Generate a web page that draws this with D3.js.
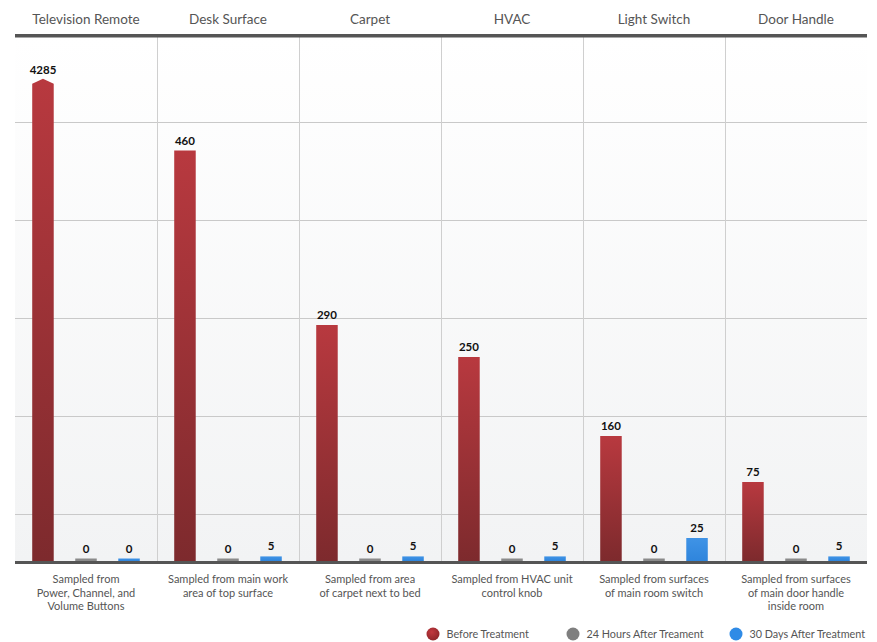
<!DOCTYPE html>
<html>
<head>
<meta charset="utf-8">
<script src="https://cdn.jsdelivr.net/npm/d3@7"></script>
<style>
  html, body { margin: 0; padding: 0; background: #fff; }
  svg { display: block; font-family: Lato, "Open Sans", sans-serif; }
</style>
</head>
<body>
<svg id="chart" width="877" height="642"></svg>
<script>
// ---------------- DATA ----------------
const categories = ["Television Remote", "Desk Surface", "Carpet", "HVAC", "Light Switch", "Door Handle"];
const descriptions = [
  ["Sampled from", "Power, Channel, and", "Volume Buttons"],
  ["Sampled from main work", "area of top surface"],
  ["Sampled from area", "of carpet next to bed"],
  ["Sampled from HVAC unit", "control knob"],
  ["Sampled from surfaces", "of main room switch"],
  ["Sampled from surfaces", "of main door handle", "inside room"]
];
const seriesNames = ["Before Treatment", "24 Hours After Treament", "30 Days After Treatment"];
const beforeTreatment = [4285, 460, 290, 250, 160, 75];
const after24Hours = [0, 0, 0, 0, 0, 0];
const after30Days = [0, 5, 5, 5, 25, 5];

// ---------------- LAYOUT ----------------
const svg = d3.select("#chart");
const left = 15, right = 867, plotTop = 37, baseline = 561;
const seriesValues = [beforeTreatment, after24Hours, after30Days];
const rows = categories.map((c, i) => ({
  cat: c, desc: descriptions[i],
  vals: seriesNames.map((s, k) => ({ series: s, k, value: seriesValues[k][i] }))
}));

const x = d3.scaleBand().domain(categories).range([left, right]).padding(0);
const xInner = d3.scaleBand().domain(seriesNames).range([0, x.bandwidth()])
  .paddingInner(0.5).paddingOuter(0.4);

// broken / compressed value axis (polylinear); values above 500 are off-scale
const yCap = 500;
const y = d3.scaleLinear()
  .domain([0, 25, 75, 160, 250, 300, 500, 5000])
  .range([0, 23, 79, 125, 204, 244, 452, 482].map(h => baseline - h));

const defs = svg.append("defs");
const bgGrad = defs.append("linearGradient").attr("id", "bg").attr("x1", 0).attr("x2", 0).attr("y1", 0).attr("y2", 1);
bgGrad.append("stop").attr("offset", "0%").attr("stop-color", "#ffffff");
bgGrad.append("stop").attr("offset", "100%").attr("stop-color", "#f2f3f4");

const redGrad = defs.append("linearGradient").attr("id", "red").attr("x1", 0).attr("x2", 0).attr("y1", 0).attr("y2", 1);
redGrad.append("stop").attr("offset", "0%").attr("stop-color", "#b8393f");
redGrad.append("stop").attr("offset", "100%").attr("stop-color", "#7d2a2d");

const redDot = defs.append("radialGradient").attr("id", "reddot").attr("cx", "40%").attr("cy", "35%").attr("r", "70%");
redDot.append("stop").attr("offset", "0%").attr("stop-color", "#c2383e");
redDot.append("stop").attr("offset", "100%").attr("stop-color", "#8c2528");

const blueGrad = defs.append("linearGradient").attr("id", "blue").attr("x1", 0).attr("x2", 0).attr("y1", 0).attr("y2", 1);
blueGrad.append("stop").attr("offset", "0%").attr("stop-color", "#3f93e6");
blueGrad.append("stop").attr("offset", "100%").attr("stop-color", "#2f85dc");

const fills = ["url(#red)", "#8a8a8a", "url(#blue)"];
const dotFills = ["url(#reddot)", "#7f7f7f", "#2f8be6"];

// plot background
svg.append("rect").attr("x", left).attr("y", plotTop).attr("width", right - left)
  .attr("height", baseline - plotTop).attr("fill", "url(#bg)");

// horizontal gridlines (unlabelled, evenly spaced)
const gridStep = 98;
const gridYs = d3.range(5).map(i => baseline - 47 - i * gridStep);
svg.append("g").selectAll("line").data(gridYs).join("line")
  .attr("x1", left).attr("x2", right).attr("y1", d => d + 0.5).attr("y2", d => d + 0.5)
  .attr("stroke", "#c9c9c9").attr("stroke-width", 1);

// vertical panel separators
svg.append("g").selectAll("line").data(categories.slice(1)).join("line")
  .attr("x1", d => Math.round(x(d)) + 0.5).attr("x2", d => Math.round(x(d)) + 0.5)
  .attr("y1", plotTop).attr("y2", baseline)
  .attr("stroke", "#cfcfcf").attr("stroke-width", 1);

// top rule
svg.append("rect").attr("x", left).attr("y", 34).attr("width", right - left).attr("height", 3.5).attr("fill", "#555");

// headers
svg.append("g").selectAll("text").data(categories).join("text")
  .attr("x", d => x(d) + x.bandwidth() / 2).attr("y", 24)
  .attr("text-anchor", "middle").attr("font-size", 13.5).attr("fill", "#555")
  .text(d => d);

// bars
const minH = 2.5;
const g = svg.append("g").selectAll("g").data(rows).join("g")
  .attr("transform", d => `translate(${x(d.cat)},0)`);

g.selectAll("path.bar").data(d => d.vals).join("path").attr("class", "bar")
  .attr("fill", d => fills[d.k])
  .attr("d", d => {
    const x0 = xInner(d.series), w = xInner.bandwidth();
    const top = Math.min(y(d.value), baseline - minH);
    if (d.value > yCap) {
      const tip = 5;
      return `M${x0},${baseline}V${top}L${x0 + w / 2},${top - tip}L${x0 + w},${top}V${baseline}Z`;
    }
    return `M${x0},${baseline}V${top}H${x0 + w}V${baseline}Z`;
  });

g.selectAll("text.val").data(d => d.vals).join("text").attr("class", "val")
  .attr("x", d => xInner(d.series) + xInner.bandwidth() / 2)
  .attr("y", d => Math.min(y(d.value), baseline - minH) - (d.value > yCap ? 10 : 6))
  .attr("text-anchor", "middle").attr("font-size", 11.5).attr("font-weight", 700).attr("fill", "#111")
  .text(d => d.value);

// baseline
svg.append("rect").attr("x", left).attr("y", baseline).attr("width", right - left).attr("height", 3).attr("fill", "#555");

// descriptions below
g.each(function (d) {
  const t = d3.select(this).append("text").attr("text-anchor", "middle")
    .attr("font-size", 11).attr("fill", "#555");
  d.desc.forEach((line, i) => {
    t.append("tspan").attr("x", x.bandwidth() / 2).attr("y", 583 + i * 13.5).text(line);
  });
});

// legend
const legendX = [433, 573, 736];
const lg = svg.append("g").selectAll("g").data(seriesNames).join("g")
  .attr("transform", (d, i) => `translate(${legendX[i]},634)`);
lg.append("circle").attr("r", 6.5).attr("fill", (d, i) => dotFills[i]);
lg.append("text").attr("x", 13.5).attr("y", 4).attr("font-size", 10.8).attr("fill", "#555").text(d => d);
</script>
</body>
</html>
